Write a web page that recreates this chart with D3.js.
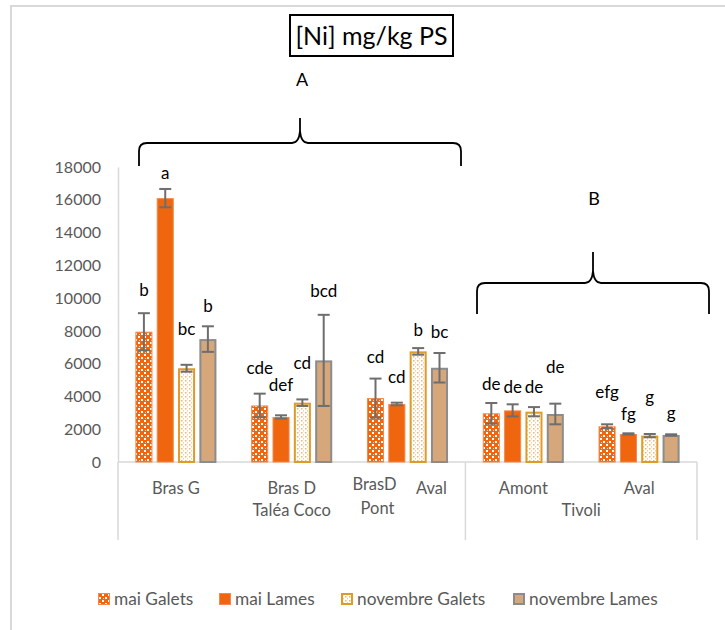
<!DOCTYPE html>
<html><head><meta charset="utf-8">
<script src="https://cdn.jsdelivr.net/npm/d3@7"></script>
<style>body{margin:0;background:#fff}svg{display:block;font-family:Lato,"Open Sans",sans-serif}</style>
</head><body>
<svg id="chart" width="725" height="630"></svg>
<script>
// ---- data ----
const categories = ["Bras G","Bras D","BrasD Pont Aval","Amont","Aval"];
const groups = ["Taléa Coco","Tivoli"];
const groupSizes = [3,2];
const series = ["mai Galets","mai Lames","novembre Galets","novembre Lames"];
const maiGalets  = [7950,3450,3900,2970,2180];
const maiLames   = [16100,2750,3540,3150,1710];
const novGalets  = [5720,3620,6750,3070,1610];
const novLames   = [7500,6200,5750,2930,1650];
const maiGaletsErr = [1130,720,1190,630,120];
const maiLamesErr  = [560,100,80,370,40];
const novGaletsErr = [210,200,200,280,100];
const novLamesErr  = [780,2780,900,630,40];
const maiGaletsSig = ["b","cde","cd","de","efg"];
const maiLamesSig  = ["a","def","cd","de","fg"];
const novGaletsSig = ["bc","cd","b","de","g"];
const novLamesSig  = ["b","bcd","bc","de","g"];
// heights (in mg/kg units) at which the significance letters sit
const maiGaletsSigAt = [10500,5740,6400,4760,4270];
const maiLamesSigAt  = [17630,4700,5190,4580,2930];
const novGaletsSigAt = [8120,6040,8050,4580,3970];
const novLamesSigAt  = [9520,10430,7930,5800,2990];
const yTicks = [0,2000,4000,6000,8000,10000,12000,14000,16000,18000];

const values = [maiGalets,maiLames,novGalets,novLames];
const errs = [maiGaletsErr,maiLamesErr,novGaletsErr,novLamesErr];
const sigs = [maiGaletsSig,maiLamesSig,novGaletsSig,novLamesSig];
const sigAt = [maiGaletsSigAt,maiLamesSigAt,novGaletsSigAt,novLamesSigAt];

const ORANGE="#F0660F", TAN="#D5A77B", GOLD="#DE9B27", GREY="#8C8C8C", ERR="#6E6E6E", AXIS="#D9D9D9", TXT="#595959";

const svg = d3.select("#chart");
const defs = svg.append("defs");
// pattern mai Galets
const p1 = defs.append("pattern").attr("id","pGal").attr("width",6).attr("height",6).attr("patternUnits","userSpaceOnUse");
p1.append("rect").attr("width",6).attr("height",6).attr("fill",ORANGE);
p1.append("rect").attr("x",0).attr("y",0).attr("width",2).attr("height",2).attr("fill","#fff");
p1.append("rect").attr("x",3).attr("y",3).attr("width",2).attr("height",2).attr("fill","#fff");
p1.append("rect").attr("x",1).attr("y",4).attr("width",1).attr("height",1).attr("fill","#fbd0b0");
// pattern novembre Galets
const p2 = defs.append("pattern").attr("id","pNov").attr("width",4).attr("height",4).attr("patternUnits","userSpaceOnUse");
p2.append("rect").attr("width",4).attr("height",4).attr("fill","#fff");
p2.append("rect").attr("x",1).attr("y",0).attr("width",1.5).attr("height",1.5).attr("fill","#EDB47C");
p2.append("rect").attr("x",3).attr("y",2).attr("width",1).attr("height",1.5).attr("fill","#F3CDA6");

const fills = ["url(#pGal)",ORANGE,"url(#pNov)",TAN];
const strokes = ["#F5884A","#F5884A",GOLD,GREY];
const strokeW = [1,1,2,2];

// outer frame
svg.append("rect").attr("x",11).attr("y",6).attr("width",800).attr("height",700)
  .attr("fill","none").attr("stroke",AXIS).attr("stroke-width",2);

const pL=118, pR=697, pT=167, pB=462;
const y = d3.scaleLinear().domain([0,18000]).range([pB,pT]);
const x0 = d3.scaleBand().domain(d3.range(categories.length)).range([pL,pR]).paddingInner(0.3).paddingOuter(0.15);
const x1 = d3.scaleBand().domain(d3.range(series.length)).range([0,x0.bandwidth()]).paddingInner(0.2);

// y axis
const ya = svg.append("g").attr("transform",`translate(${pL},0)`)
  .call(d3.axisLeft(y).tickValues(yTicks).tickSize(0).tickPadding(17).tickFormat(d3.format("d")));
ya.select(".domain").attr("stroke",AXIS).attr("stroke-width",1.5);
ya.selectAll("text").attr("fill",TXT).attr("font-size",16).attr("font-family","Lato");

// x baseline & category axis
svg.append("line").attr("x1",pL).attr("x2",pR).attr("y1",pB).attr("y2",pB).attr("stroke",AXIS).attr("stroke-width",1.5);
let cum=0;
const sepIdx=[0];
groupSizes.forEach(n=>{cum+=n;sepIdx.push(cum);});
sepIdx.forEach(i=>{
  const xx = i===0? pL : (i===categories.length? pR : x0(i)-x0.step()*x0.paddingInner()/2);
  svg.append("line").attr("x1",xx).attr("x2",xx).attr("y1",pB).attr("y2",540).attr("stroke",AXIS).attr("stroke-width",1.5);
});
categories.forEach((c,i)=>{
  const cx = x0(i)+x0.bandwidth()/2;
  const g = svg.append("g").attr("fill",TXT).attr("font-size",16.5).attr("text-anchor","middle");
  if(i===2){
    const w = c.split(" ");
    g.append("text").attr("x",cx-33).attr("y",490).text(w[0]);
    g.append("text").attr("x",cx-30).attr("y",514).text(w[1]);
    g.append("text").attr("x",cx+24).attr("y",494).text(w[2]);
  } else {
    g.append("text").attr("x",cx).attr("y",494).text(c);
  }
});
cum=0;
groups.forEach((gname,gi)=>{
  const a = x0(cum), b = x0(cum+groupSizes[gi]-1)+x0.bandwidth();
  svg.append("text").attr("x",(a+b)/2).attr("y",516).attr("text-anchor","middle")
    .attr("fill",TXT).attr("font-size",16.5).text(gname);
  cum+=groupSizes[gi];
});

// bars
series.forEach((s,si)=>{
  const g = svg.append("g");
  categories.forEach((c,ci)=>{
    const bx = x0(ci)+x1(si), bw=x1.bandwidth(), v=values[si][ci];
    const sw = strokeW[si];
    g.append("rect").attr("x",bx+sw/2).attr("y",y(v)+sw/2).attr("width",bw-sw).attr("height",y(0)-y(v)-sw/2)
      .attr("fill",fills[si]).attr("stroke",strokes[si]).attr("stroke-width",sw);
    const cx = bx+bw/2, e=errs[si][ci];
    const eg = g.append("g").attr("stroke",ERR).attr("stroke-width",2);
    eg.append("line").attr("x1",cx).attr("x2",cx).attr("y1",y(v+e)).attr("y2",y(v-e));
    eg.append("line").attr("x1",cx-6).attr("x2",cx+6).attr("y1",y(v+e)).attr("y2",y(v+e));
    eg.append("line").attr("x1",cx-6).attr("x2",cx+6).attr("y1",y(v-e)).attr("y2",y(v-e));
    g.append("text").attr("x",cx).attr("y",y(sigAt[si][ci])).attr("dy","0.35em")
      .attr("text-anchor","middle").attr("font-size",17).attr("fill","#000").text(sigs[si][ci]);
  });
});

// title
svg.append("rect").attr("x",290).attr("y",15).attr("width",163).attr("height",41)
  .attr("fill","#fff").attr("stroke","#000").attr("stroke-width",2);
svg.append("text").attr("x",371.5).attr("y",45).attr("text-anchor","middle").attr("font-size",25)
  .attr("fill","#000").text("[Ni] mg/kg PS");

// braces
function brace(xl,xr,xt,yh,yb,yt){
  return `M${xl},${yb} L${xl},${yh+8} Q${xl},${yh} ${xl+8},${yh} L${xt-8},${yh} Q${xt-1},${yh} ${xt},${yh-12} L${xt},${yt}`+
         ` M${xt},${yh-12} Q${xt+1},${yh} ${xt+8},${yh} L${xr-8},${yh} Q${xr},${yh} ${xr},${yh+8} L${xr},${yb}`;
}
svg.append("path").attr("d",brace(139,461,300,143,166,118)).attr("fill","none").attr("stroke","#000").attr("stroke-width",1.8);
svg.append("path").attr("d",brace(477,709,593,283,314,252)).attr("fill","none").attr("stroke","#000").attr("stroke-width",1.8);
svg.append("text").attr("x",302).attr("y",86).attr("text-anchor","middle").attr("font-size",18).text("A");
svg.append("text").attr("x",594).attr("y",205).attr("text-anchor","middle").attr("font-size",18).text("B");

// legend
const legX = [98,219,341,513];
series.forEach((s,si)=>{
  const sw = strokeW[si];
  svg.append("rect").attr("x",legX[si]+sw/2).attr("y",593+sw/2).attr("width",12-sw).attr("height",12-sw)
    .attr("fill",fills[si]).attr("stroke",strokes[si]).attr("stroke-width",sw);
  svg.append("text").attr("x",legX[si]+16).attr("y",599).attr("dy","0.35em").attr("font-size",17.3)
    .attr("fill",TXT).text(s);
});
</script>
</body></html>
